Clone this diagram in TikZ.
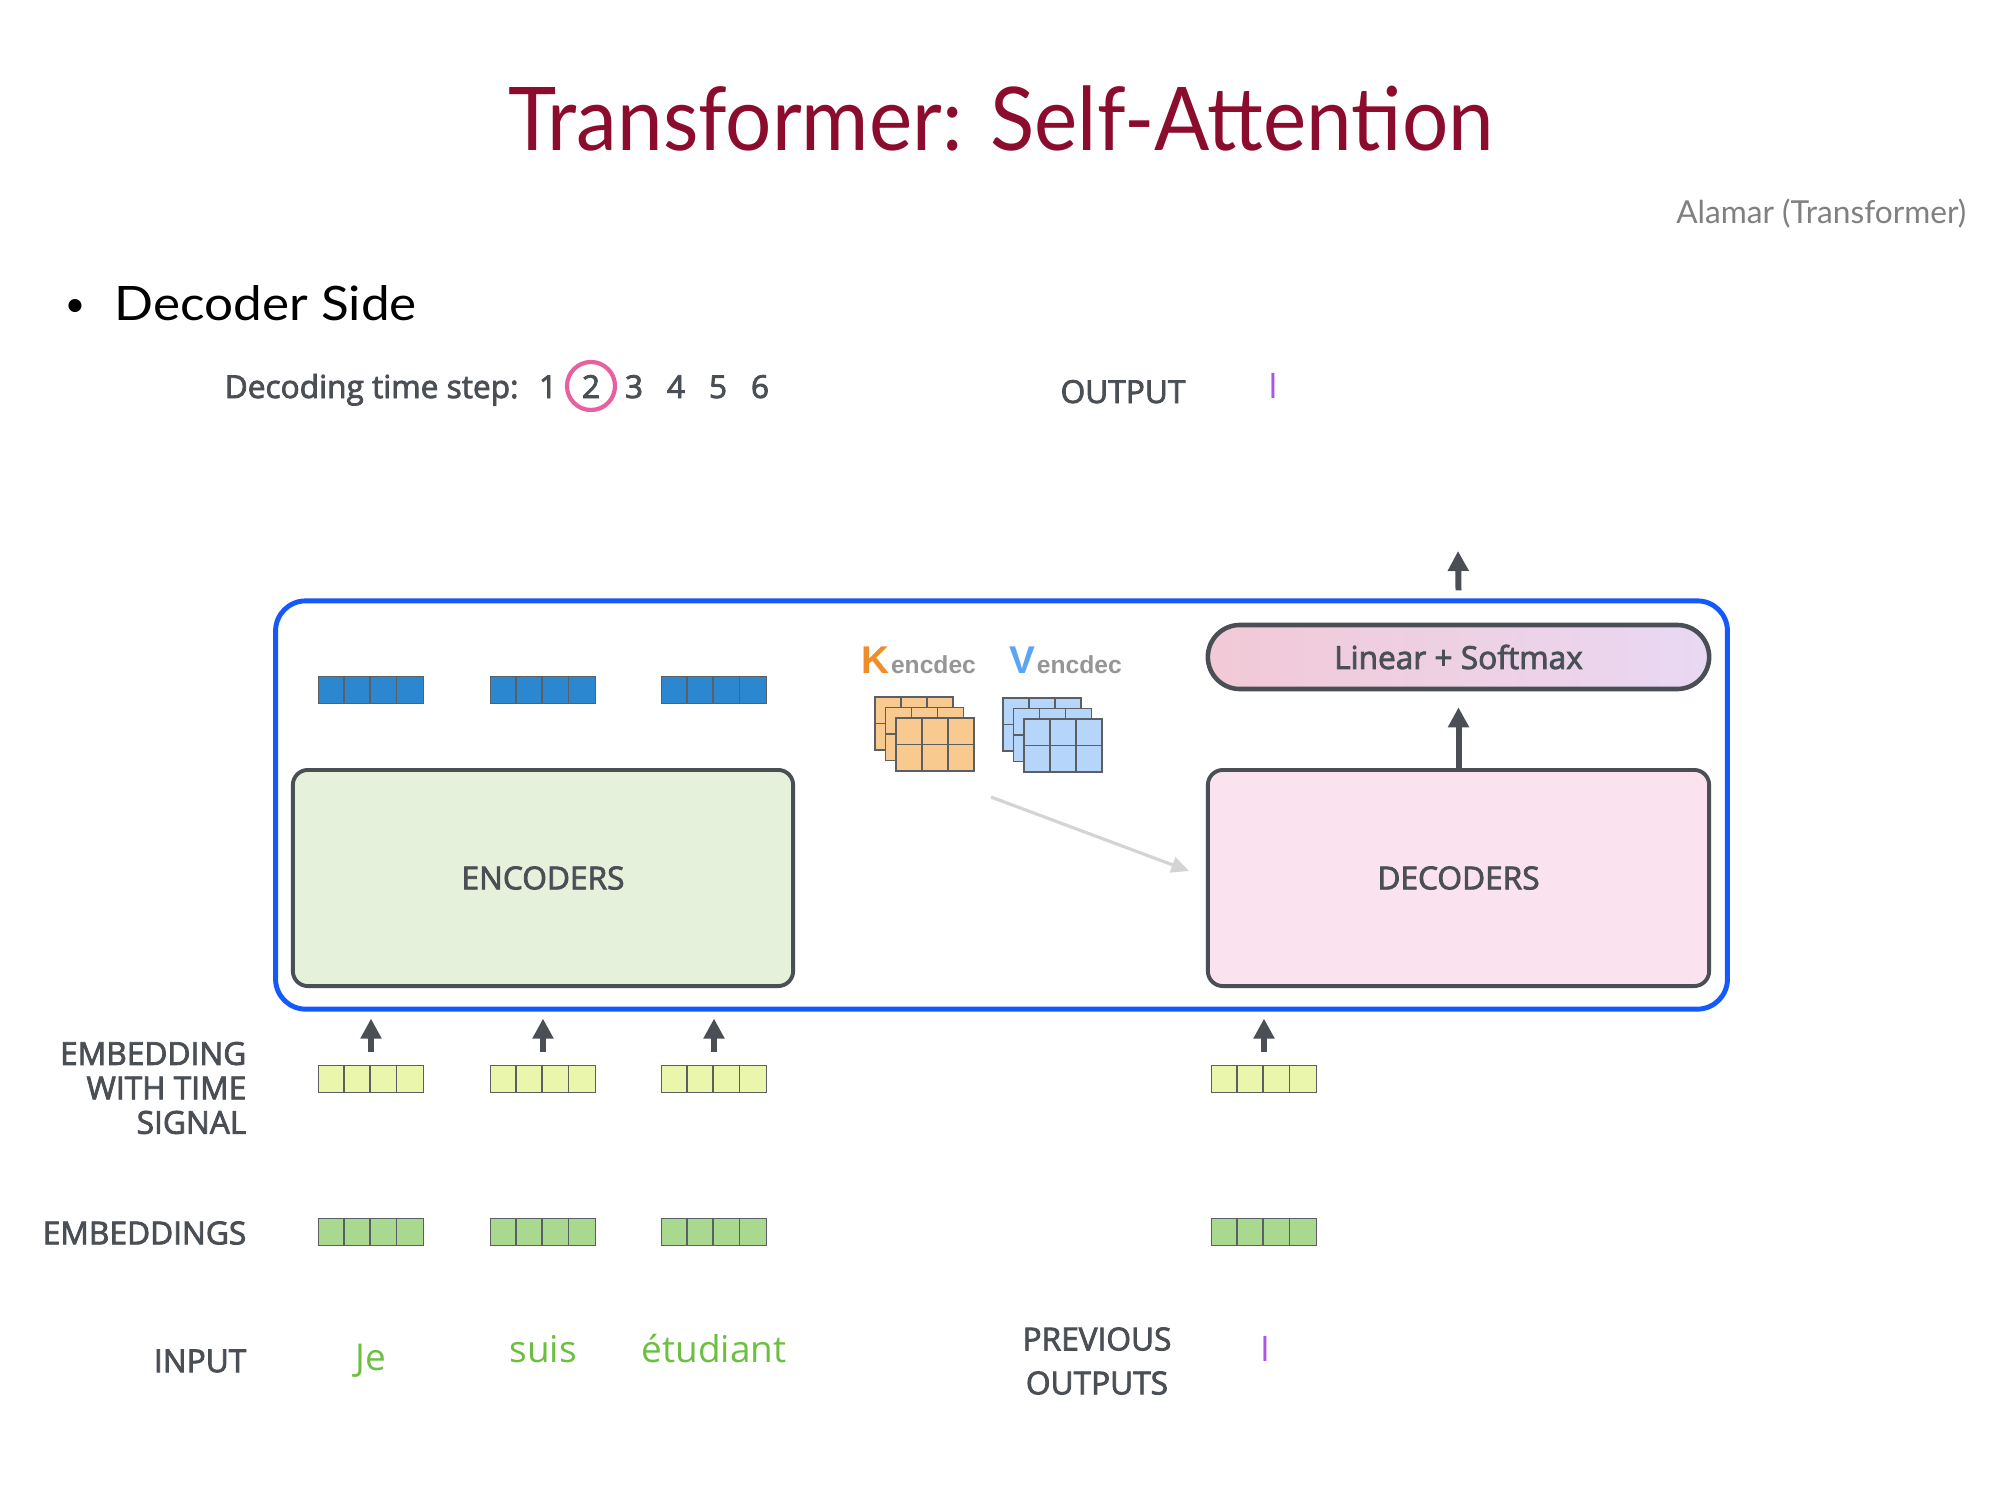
\documentclass[tikz,border=0pt]{standalone}
\usepackage{fontspec}
\setmainfont{Open Sans}
\newfontfamily\semi{Open Sans}[FakeBold=2.5]
\newfontfamily\slidefont{Lato}
\newfontfamily\kvfont{Liberation Sans}
\usetikzlibrary{arrows.meta}

\definecolor{titlered}{RGB}{140,12,45}
\definecolor{ink}{RGB}{74,79,85}
\definecolor{framblue}{RGB}{20,90,250}
\definecolor{encfill}{RGB}{230,241,220}
\definecolor{decfill}{RGB}{250,227,239}
\definecolor{softL}{RGB}{242,201,214}
\definecolor{softR}{RGB}{233,216,243}
\definecolor{outblue}{RGB}{43,136,208}
\definecolor{timeyellow}{RGB}{234,246,172}
\definecolor{embgreen}{RGB}{169,217,142}
\definecolor{cellgray}{RGB}{90,95,100}
\definecolor{kcolor}{RGB}{240,140,42}
\definecolor{kfill}{RGB}{249,202,144}
\definecolor{vcolor}{RGB}{90,165,245}
\definecolor{vfill}{RGB}{181,214,250}
\definecolor{encgray}{RGB}{150,150,150}
\definecolor{steppink}{RGB}{232,96,159}
\definecolor{wordpurple}{RGB}{168,85,232}
\definecolor{wordgreen}{RGB}{108,191,64}
\definecolor{faintarrow}{RGB}{212,212,212}

\begin{document}
\begin{tikzpicture}[x=0.01cm, y=-0.01cm,
  every node/.style={font=\semi\fontsize{9}{10}\selectfont, text=ink, inner sep=0pt},
  lbl/.style={align=right, anchor=east, font=\semi\fontsize{9}{9.8}\selectfont},
  vecbox/.style={draw=cellgray, line width=0.5pt, minimum width=1.05cm, minimum height=0.27cm},
  block/.style={draw=ink, line width=1.1pt, rounded corners=0.15cm, minimum width=5cm, minimum height=2.16cm},
  up/.style={draw=ink, line width=1.7pt, -{Triangle[length=5.7pt, width=5.7pt]}},
  word/.style={anchor=base, font=\normalfont\fontsize{10.5}{12}\selectfont, text=wordgreen}]
\fill[white] (0,0) rectangle (2000,1500);

% heading
\node[anchor=base, font=\slidefont\fontsize{25}{30}\selectfont, text=titlered] (title) at (1001,150) {\scalebox{0.93}[1]{Transformer: Self-Attention}};
\node[anchor=base east, font=\slidefont\fontsize{9}{10}\selectfont, text=gray] (credit) at (1967,224) {Alamar (Transformer)};
\node[anchor=base, font=\slidefont\fontsize{10}{12}\selectfont, text=black] (bullet) at (75,316) {•};
\node[anchor=base west, font=\slidefont\fontsize{13.5}{16}\selectfont, text=black] (side) at (114,320) {\scalebox{1.08}[1]{Decoder Side}};

% time steps
\node[anchor=base west] (steps) at (224,398) {Decoding time step:};
\foreach \n/\x in {1/548,2/591,3/634,4/676,5/718,6/760}
  \node[anchor=base] (t\n) at (\x,398) {\n};
\node[circle, draw=steppink, line width=1.2pt, minimum size=0.48cm] (ring) at (591,386) {};
\node[anchor=base] (outlbl) at (1123,403) {OUTPUT};
\node[anchor=base, font=\normalfont\fontsize{10}{12}\selectfont, text=wordpurple] (outword) at (1273,398) {I};

% main frame
\node[draw=framblue, line width=1.4pt, rounded corners=0.3cm, minimum width=14.51cm, minimum height=4.08cm] (frame) at (1001.5,805) {};
\node[block, fill=encfill] (enc) at (543,878) {ENCODERS};
\node[block, fill=decfill, minimum width=5.01cm] (dec) at (1458.5,878) {DECODERS};
\node[draw=ink, line width=1.3pt, rounded corners=0.32cm, minimum width=5.01cm, minimum height=0.64cm,
  left color=softL, right color=softR] (softmax) at (1458.5,657) {Linear + Softmax};
\coordinate (out) at (1458,551);
\draw[up] (softmax.north |- frame.north) ++(0,-8) -- (out);
\draw[up, shorten >=0.16cm] (dec.north) -- (softmax.south);

% encoder outputs
\foreach \i/\x in {1/371,2/543,3/714} {
  \node[vecbox, fill=outblue] (h\i) at (\x,690) {};
  \foreach \k in {1,2,3}
    \draw[cellgray, line width=0.5pt] ([xshift=\k*0.2625cm]h\i.north west) -- ([xshift=\k*0.2625cm]h\i.south west);
}

% K and V stacks
\node[anchor=base west, font=\kvfont\bfseries\fontsize{11}{12}\selectfont, text=kcolor] (klbl) at (861,673) {K};
\node[anchor=base west, font=\kvfont\bfseries\fontsize{7}{8}\selectfont, text=encgray] (ksub) at (klbl.base east) {encdec};
\node[anchor=base west, font=\kvfont\bfseries\fontsize{11}{12}\selectfont, text=vcolor] (vlbl) at (1009,673) {V};
\node[anchor=base west, font=\kvfont\bfseries\fontsize{7}{8}\selectfont, text=encgray] (vsub) at (vlbl.base east) {encdec};
\foreach \x/\y/\c in {875/697/kfill,1003/698/vfill}
  \foreach \d in {0,10.5,21} {
    \draw[cellgray, line width=0.5pt, fill=\c] (\x+\d,\y+\d) rectangle ++(78,53);
    \draw[cellgray, line width=0.5pt] (\x+\d+26,\y+\d) -- ++(0,53) (\x+\d+52,\y+\d) -- ++(0,53)
      (\x+\d,\y+\d+26.5) -- ++(78,0);
  }
\coordinate (kvout) at (991,797);
\coordinate (decin) at (1189,871);
\draw[faintarrow, line width=0.9pt, -{Triangle[length=5pt, width=4.5pt]}] (kvout) -- (decin);

% inputs
\node[lbl] (sigl) at (247,1088) {EMBEDDING\\WITH TIME\\SIGNAL};
\node[lbl] (embl) at (247,1233) {EMBEDDINGS};
\node[lbl] (inl) at (247,1361) {INPUT};
\foreach \i/\x in {1/371,2/543,3/714,4/1264} {
  \node[vecbox, fill=timeyellow] (s\i) at (\x,1079) {};
  \node[vecbox, fill=embgreen] (e\i) at (\x,1232) {};
  \foreach \k in {1,2,3} {
    \draw[cellgray, line width=0.5pt] ([xshift=\k*0.2625cm]s\i.north west) -- ([xshift=\k*0.2625cm]s\i.south west);
    \draw[cellgray, line width=0.5pt] ([xshift=\k*0.2625cm]e\i.north west) -- ([xshift=\k*0.2625cm]e\i.south west);
  }
  \draw[up, shorten <=0.13cm, shorten >=0.07cm] (s\i.north) -- (s\i.north |- frame.south);
}
\node[word] (w1) at (371,1370) {Je};
\node[word] (w2) at (543,1362) {suis};
\node[word] (w3) at (714,1362) {étudiant};
\node[align=center, font=\semi\fontsize{9}{12.5}\selectfont] (prevl) at (1097,1361) {PREVIOUS\\OUTPUTS};
\node[anchor=base, font=\normalfont\fontsize{10}{12}\selectfont, text=wordpurple] (w4) at (1265,1361) {I};
\end{tikzpicture}
\end{document}
